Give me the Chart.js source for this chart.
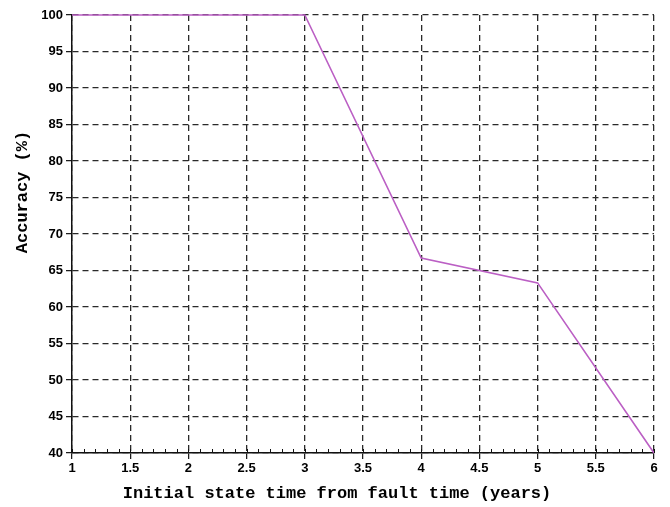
<!DOCTYPE html>
<html>
<head>
<meta charset="utf-8">
<script src="https://cdn.jsdelivr.net/npm/chart.js@4.4.1/dist/chart.umd.min.js"></script>
<style>
  html, body { margin: 0; padding: 0; background: #fff; }
  #wrap { width: 670px; height: 507px; }
</style>
</head>
<body>
<div id="wrap"><canvas id="c" width="670" height="507"></canvas></div>
<script>
// Years between the initial state and the fault, and classification accuracy
const initialStateYears = [1, 2, 3, 4, 5, 6];
const accuracyPercent = [100, 100, 100, 66.7, 63.3, 40];
const xTickStep = 0.5;
const yTickStep = 5;
const xMinorStep = 0.1;
const xTitle = 'Initial state time from fault time (years)';
const yTitle = 'Accuracy (%)';

const tickFont = { family: 'Liberation Sans, Arial, sans-serif', size: 13, weight: 'bold' };
const titleFont = { family: 'Liberation Mono, Courier New, monospace', size: 17, weight: 'bold' };

// Short inward ticks along the bottom axis at every tenth of a year
const minorTicks = {
  id: 'minorTicks',
  afterDraw(chart) {
    const xs = chart.scales.x;
    const ctx = chart.ctx;
    const yBase = chart.chartArea.bottom;
    ctx.save();
    ctx.strokeStyle = '#111';
    ctx.lineWidth = 1;
    const n = Math.round((xs.max - xs.min) / xMinorStep);
    for (let i = 0; i <= n; i++) {
      const v = xs.min + i * xMinorStep;
      const px = Math.round(xs.getPixelForValue(v)) + 0.5;
      ctx.beginPath();
      ctx.moveTo(px, yBase);
      ctx.lineTo(px, yBase - 4);
      ctx.stroke();
    }
    ctx.restore();
  }
};

// Axis captions, set in the margins around the plot
const axisCaptions = {
  id: 'axisCaptions',
  afterDraw(chart) {
    const ctx = chart.ctx;
    ctx.save();
    ctx.font = `bold ${titleFont.size}px ${titleFont.family}`;
    ctx.fillStyle = '#000';
    ctx.textAlign = 'center';
    ctx.textBaseline = 'middle';
    ctx.fillText(xTitle, 337, 494);
    ctx.translate(23, 192);
    ctx.rotate(-Math.PI / 2);
    ctx.fillText(yTitle, 0, 0);
    ctx.restore();
  }
};

const gridStyle = { color: '#2a2a2a', lineWidth: 1.3, tickLength: 6, tickColor: '#111', tickBorderDash: [], tickWidth: 1.2 };
const borderStyle = { display: true, color: '#111', width: 1.5, dash: [6, 4] };

new Chart(document.getElementById('c'), {
  type: 'line',
  data: {
    datasets: [{
      data: initialStateYears.map((x, i) => ({ x, y: accuracyPercent[i] })),
      borderColor: '#bb5fc4',
      borderWidth: 1.6,
      pointRadius: 0,
      tension: 0,
      fill: false,
      clip: false
    }]
  },
  options: {
    responsive: false,
    animation: false,
    layout: { padding: { left: 0, right: 16, top: 15, bottom: 0 } },
    plugins: {
      legend: { display: false },
      tooltip: { enabled: false }
    },
    scales: {
      x: {
        type: 'linear',
        min: 1, max: 6,
        afterFit(scale) { scale.height = 54; },
        ticks: { stepSize: xTickStep, color: '#000', font: tickFont, padding: 2, maxRotation: 0,
                 callback: v => String(v) },
        grid: gridStyle,
        border: borderStyle
      },
      y: {
        min: 40, max: 100,
        afterFit(scale) { scale.width = 72; },
        ticks: { stepSize: yTickStep, color: '#000', font: tickFont, padding: 3 },
        grid: gridStyle,
        border: borderStyle
      }
    }
  },
  plugins: [minorTicks, axisCaptions]
});
</script>
</body>
</html>
